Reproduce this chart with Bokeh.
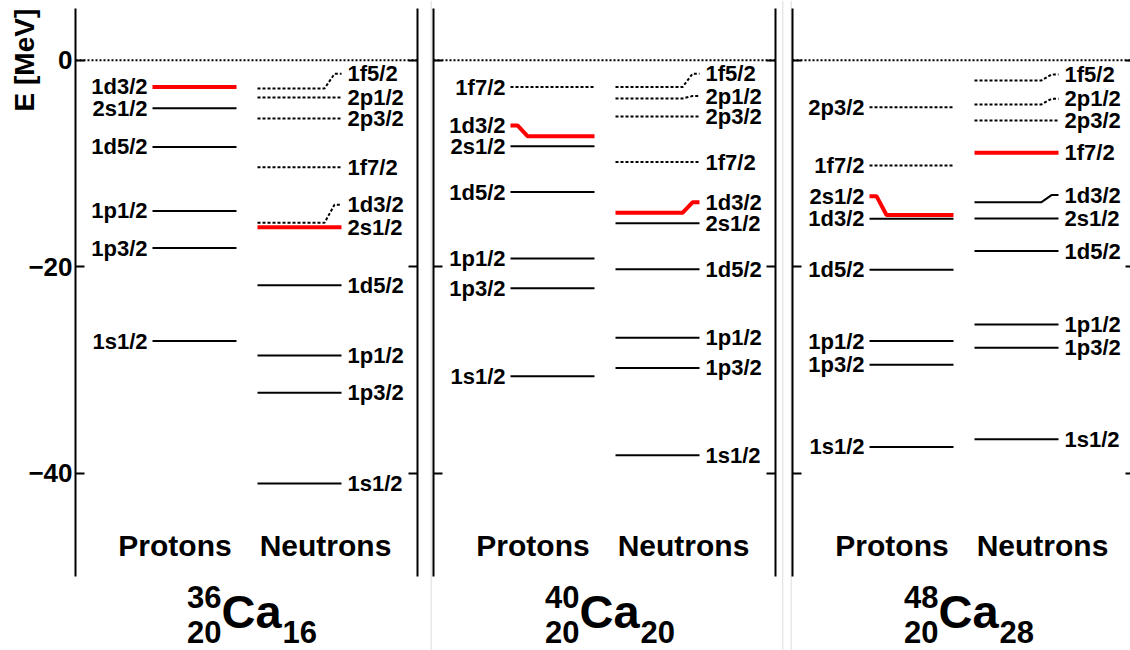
import math
from bokeh.plotting import figure
from bokeh.layouts import row
from bokeh.models import Range1d, LinearAxis, FixedTicker, ColumnDataSource
from bokeh.core.properties import value
from bokeh.embed import file_html
from bokeh.resources import INLINE

# ---------------- data ----------------
mass_numbers = [36, 40, 48]
proton_numbers = [20, 20, 20]
neutron_numbers = [16, 20, 28]
element = "Ca"
columns = ["Protons", "Neutrons"]
y_label = "E [MeV]"
y_ticks = [0, -20, -40]
y_tick_labels = ["0", "\u221220", "\u221240"]

# 36Ca protons
p36_orbit = ["1d3/2", "2s1/2", "1d5/2", "1p1/2", "1p3/2", "1s1/2"]
p36_energy = [-2.6, -4.65, -8.4, -14.6, -18.2, -27.2]
p36_label_energy = [-2.6, -4.65, -8.4, -14.6, -18.2, -27.2]
p36_state = ["fermi", "occ", "occ", "occ", "occ", "occ"]
# 36Ca neutrons
n36_orbit = ["1f5/2", "2p1/2", "2p3/2", "1f7/2", "1d3/2", "2s1/2", "1d5/2", "1p1/2", "1p3/2", "1s1/2"]
n36_energy = [-2.74, -3.61, -5.65, -10.36, -15.75, -16.17, -21.8, -28.6, -32.2, -41.0]
n36_label_energy = [-1.33, -3.61, -5.65, -10.36, -14.0, -16.17, -21.8, -28.6, -32.2, -41.0]
n36_state = ["empty", "empty", "empty", "empty", "empty", "fermi", "occ", "occ", "occ", "occ"]

# 40Ca protons
p40_orbit = ["1f7/2", "1d3/2", "2s1/2", "1d5/2", "1p1/2", "1p3/2", "1s1/2"]
p40_energy = [-2.61, -7.36, -8.33, -12.78, -19.2, -22.1, -30.6]
p40_label_energy = [-2.61, -6.32, -8.33, -12.78, -19.2, -22.1, -30.6]
p40_state = ["empty", "fermi", "occ", "occ", "occ", "occ", "occ"]
# 40Ca neutrons
n40_orbit = ["1f5/2", "2p1/2", "2p3/2", "1f7/2", "1d3/2", "2s1/2", "1d5/2", "1p1/2", "1p3/2", "1s1/2"]
n40_energy = [-2.61, -3.71, -5.45, -9.87, -14.78, -15.8, -20.26, -26.88, -29.8, -38.27]
n40_label_energy = [-1.32, -3.48, -5.45, -9.87, -13.77, -15.8, -20.26, -26.88, -29.8, -38.27]
n40_state = ["empty", "empty", "empty", "empty", "fermi", "occ", "occ", "occ", "occ", "occ"]

# 48Ca protons
p48_orbit = ["2p3/2", "1f7/2", "2s1/2", "1d3/2", "1d5/2", "1p1/2", "1p3/2", "1s1/2"]
p48_energy = [-4.55, -10.2, -15.0, -15.36, -20.3, -27.2, -29.5, -37.46]
p48_label_energy = [-4.55, -10.2, -13.17, -15.36, -20.3, -27.2, -29.5, -37.46]
p48_state = ["empty", "empty", "fermi", "occ", "occ", "occ", "occ", "occ"]
# 48Ca neutrons
n48_orbit = ["1f5/2", "2p1/2", "2p3/2", "1f7/2", "1d3/2", "2s1/2", "1d5/2", "1p1/2", "1p3/2", "1s1/2"]
n48_energy = [-1.97, -4.29, -5.84, -8.97, -13.75, -15.33, -18.49, -25.59, -27.85, -36.72]
n48_label_energy = [-1.39, -3.74, -5.84, -8.97, -13.07, -15.33, -18.49, -25.59, -27.85, -36.72]
n48_state = ["empty", "empty", "empty", "fermi", "occ", "occ", "occ", "occ", "occ", "occ"]

panels = [
    (p36_orbit, p36_energy, p36_label_energy, p36_state, n36_orbit, n36_energy, n36_label_energy, n36_state),
    (p40_orbit, p40_energy, p40_label_energy, p40_state, n40_orbit, n40_energy, n40_label_energy, n40_state),
    (p48_orbit, p48_energy, p48_label_energy, p48_state, n48_orbit, n48_energy, n48_label_energy, n48_state),
]

# ---------------- layout constants ----------------
FONT = value("Liberation Sans")
Y_AX0, Y_AX1 = -50, 5
AX_TOP, AX_H = 8, 568
PX = AX_H / (Y_AX1 - Y_AX0)
HEIGHT = 650
PANEL_W = 342


def e_at(py):
    return Y_AX1 - (py - AX_TOP) / PX


PROT_X0, PROT_X1 = 77, 161
NEUT_X0, NEUT_X1 = 182, 266
STYLE = {
    "occ": dict(line_color="black", line_width=2),
    "empty": dict(line_color="black", line_width=2, line_dash="3 2"),
    "fermi": dict(line_color="#ff0000", line_width=4),
}

# figure widths and x-range (in pixel-like units; axis of the panel at x=0 and x=PANEL_W)
specs = [
    dict(width=425, x0=-75, seps=[]),
    dict(width=359, x0=-8, seps=[-2.3, 349.3]),
    dict(width=346, x0=-8, seps=[-1.3]),
]

figs = []
for i, (spec, data) in enumerate(zip(specs, panels)):
    po, pe, pl, ps, no, ne, nl, ns = data
    x0 = spec["x0"]
    p = figure(width=spec["width"], height=HEIGHT, x_range=Range1d(x0, x0 + spec["width"]),
               y_range=Range1d(e_at(HEIGHT), e_at(0)), x_axis_type=None, toolbar_location=None,
               output_backend="svg", min_border_left=0, min_border_right=0,
               min_border_top=0, min_border_bottom=0)
    p.outline_line_color = None
    p.ygrid.grid_line_color = None
    p.background_fill_color = "white"
    p.border_fill_color = "white"

    # faint image separators
    if spec["seps"]:
        p.segment(x0=spec["seps"], x1=spec["seps"], y0=[e_at(0)] * len(spec["seps"]),
                  y1=[e_at(HEIGHT)] * len(spec["seps"]), line_color="#dcdcdc", line_width=1)

    ax = p.yaxis[0]
    raxis = LinearAxis()
    p.add_layout(raxis, "right")
    ax.fixed_location = 0
    raxis.fixed_location = PANEL_W
    for a in (ax, raxis):
        a.ticker = FixedTicker(ticks=y_ticks, minor_ticks=[])
        a.bounds = (Y_AX0, Y_AX1)
        a.axis_line_width = 2
        a.major_tick_line_width = 2
        a.major_tick_in = 9
        a.major_tick_out = 0
        a.minor_tick_in = 0
        a.minor_tick_out = 0
    if i == 0:
        ax.major_label_overrides = {t: s for t, s in zip(y_ticks, y_tick_labels)}
        ax.major_label_text_font = "Liberation Sans"
        ax.major_label_text_font_style = "bold"
        ax.major_label_text_font_size = "26px"
        ax.major_label_text_color = "black"
        ax.major_label_standoff = 3
        p.text(x=[-51], y=[0], text=[y_label], angle=math.pi / 2, text_font=FONT,
               text_font_style="bold", text_font_size="28px", text_align="center",
               text_baseline="middle", text_color="black")
    else:
        ax.major_label_overrides = {t: "" for t in y_ticks}
        ax.major_label_text_font_size = "0px"
        ax.major_label_standoff = 0
    raxis.major_label_overrides = {t: "" for t in y_ticks}
    raxis.major_label_text_font_size = "0px"
    raxis.major_label_standoff = 0

    # zero-energy line
    p.segment(x0=[0], x1=[PANEL_W], y0=[0], y1=[0], line_color="black",
              line_width=2, line_dash="2 2")

    # levels
    for side, (orb, en, lab, st) in enumerate([(po, pe, pl, ps), (no, ne, nl, ns)]):
        groups = {}
        for o, e, l, s in zip(orb, en, lab, st):
            if side == 0:
                a0, a1 = PROT_X0, PROT_X1
                if abs(l - e) > 1e-9:
                    xs, ys = [a0, a0 + 7, a0 + 17, a1], [l, l, e, e]
                else:
                    xs, ys = [a0, a1], [e, e]
            else:
                a0, a1 = NEUT_X0, NEUT_X1
                if abs(l - e) > 1e-9:
                    xs, ys = [a0, a1 - 17, a1 - 7, a1], [e, e, l, l]
                else:
                    xs, ys = [a0, a1], [e, e]
            g = groups.setdefault(s, {"xs": [], "ys": []})
            g["xs"].append(xs)
            g["ys"].append(ys)
        for s in ["empty", "occ", "fermi"]:
            if s in groups:
                p.multi_line(xs="xs", ys="ys", source=ColumnDataSource(groups[s]), **STYLE[s])
        if side == 0:
            tx, talign = [PROT_X0 - 5] * len(orb), "right"
        else:
            tx, talign = [NEUT_X1 + 6] * len(orb), "left"
        p.text(x=tx, y=lab, text=orb, text_font=FONT, text_font_style="bold",
               text_font_size="22px", text_align=talign, text_baseline="middle",
               text_color="black")

    # column headers
    p.text(x=[99.5, 250], y=[e_at(545)] * 2, text=columns, text_font=FONT,
           text_font_style="bold", text_font_size="30px", text_align="center",
           text_baseline="middle", text_color="black")

    # nucleus label  (A, Z on the left, N on the right)
    cx, half = 176, 29
    p.text(x=[cx], y=[e_at(611)], text=[element], text_font=FONT, text_font_style="bold",
           text_font_size="47px", text_align="center", text_baseline="middle",
           text_color="black")
    p.text(x=[cx - half - 1] * 2, y=[e_at(596.5), e_at(631)],
           text=[str(mass_numbers[i]), str(proton_numbers[i])], text_font=FONT,
           text_font_style="bold", text_font_size="31px", text_align="right",
           text_baseline="middle", text_color="black")
    p.text(x=[cx + half + 2], y=[e_at(631)], text=[str(neutron_numbers[i])], text_font=FONT,
           text_font_style="bold", text_font_size="31px", text_align="left",
           text_baseline="middle", text_color="black")
    figs.append(p)

layout = row(*figs, spacing=0)
open("out.html", "w").write(file_html(layout, INLINE))
